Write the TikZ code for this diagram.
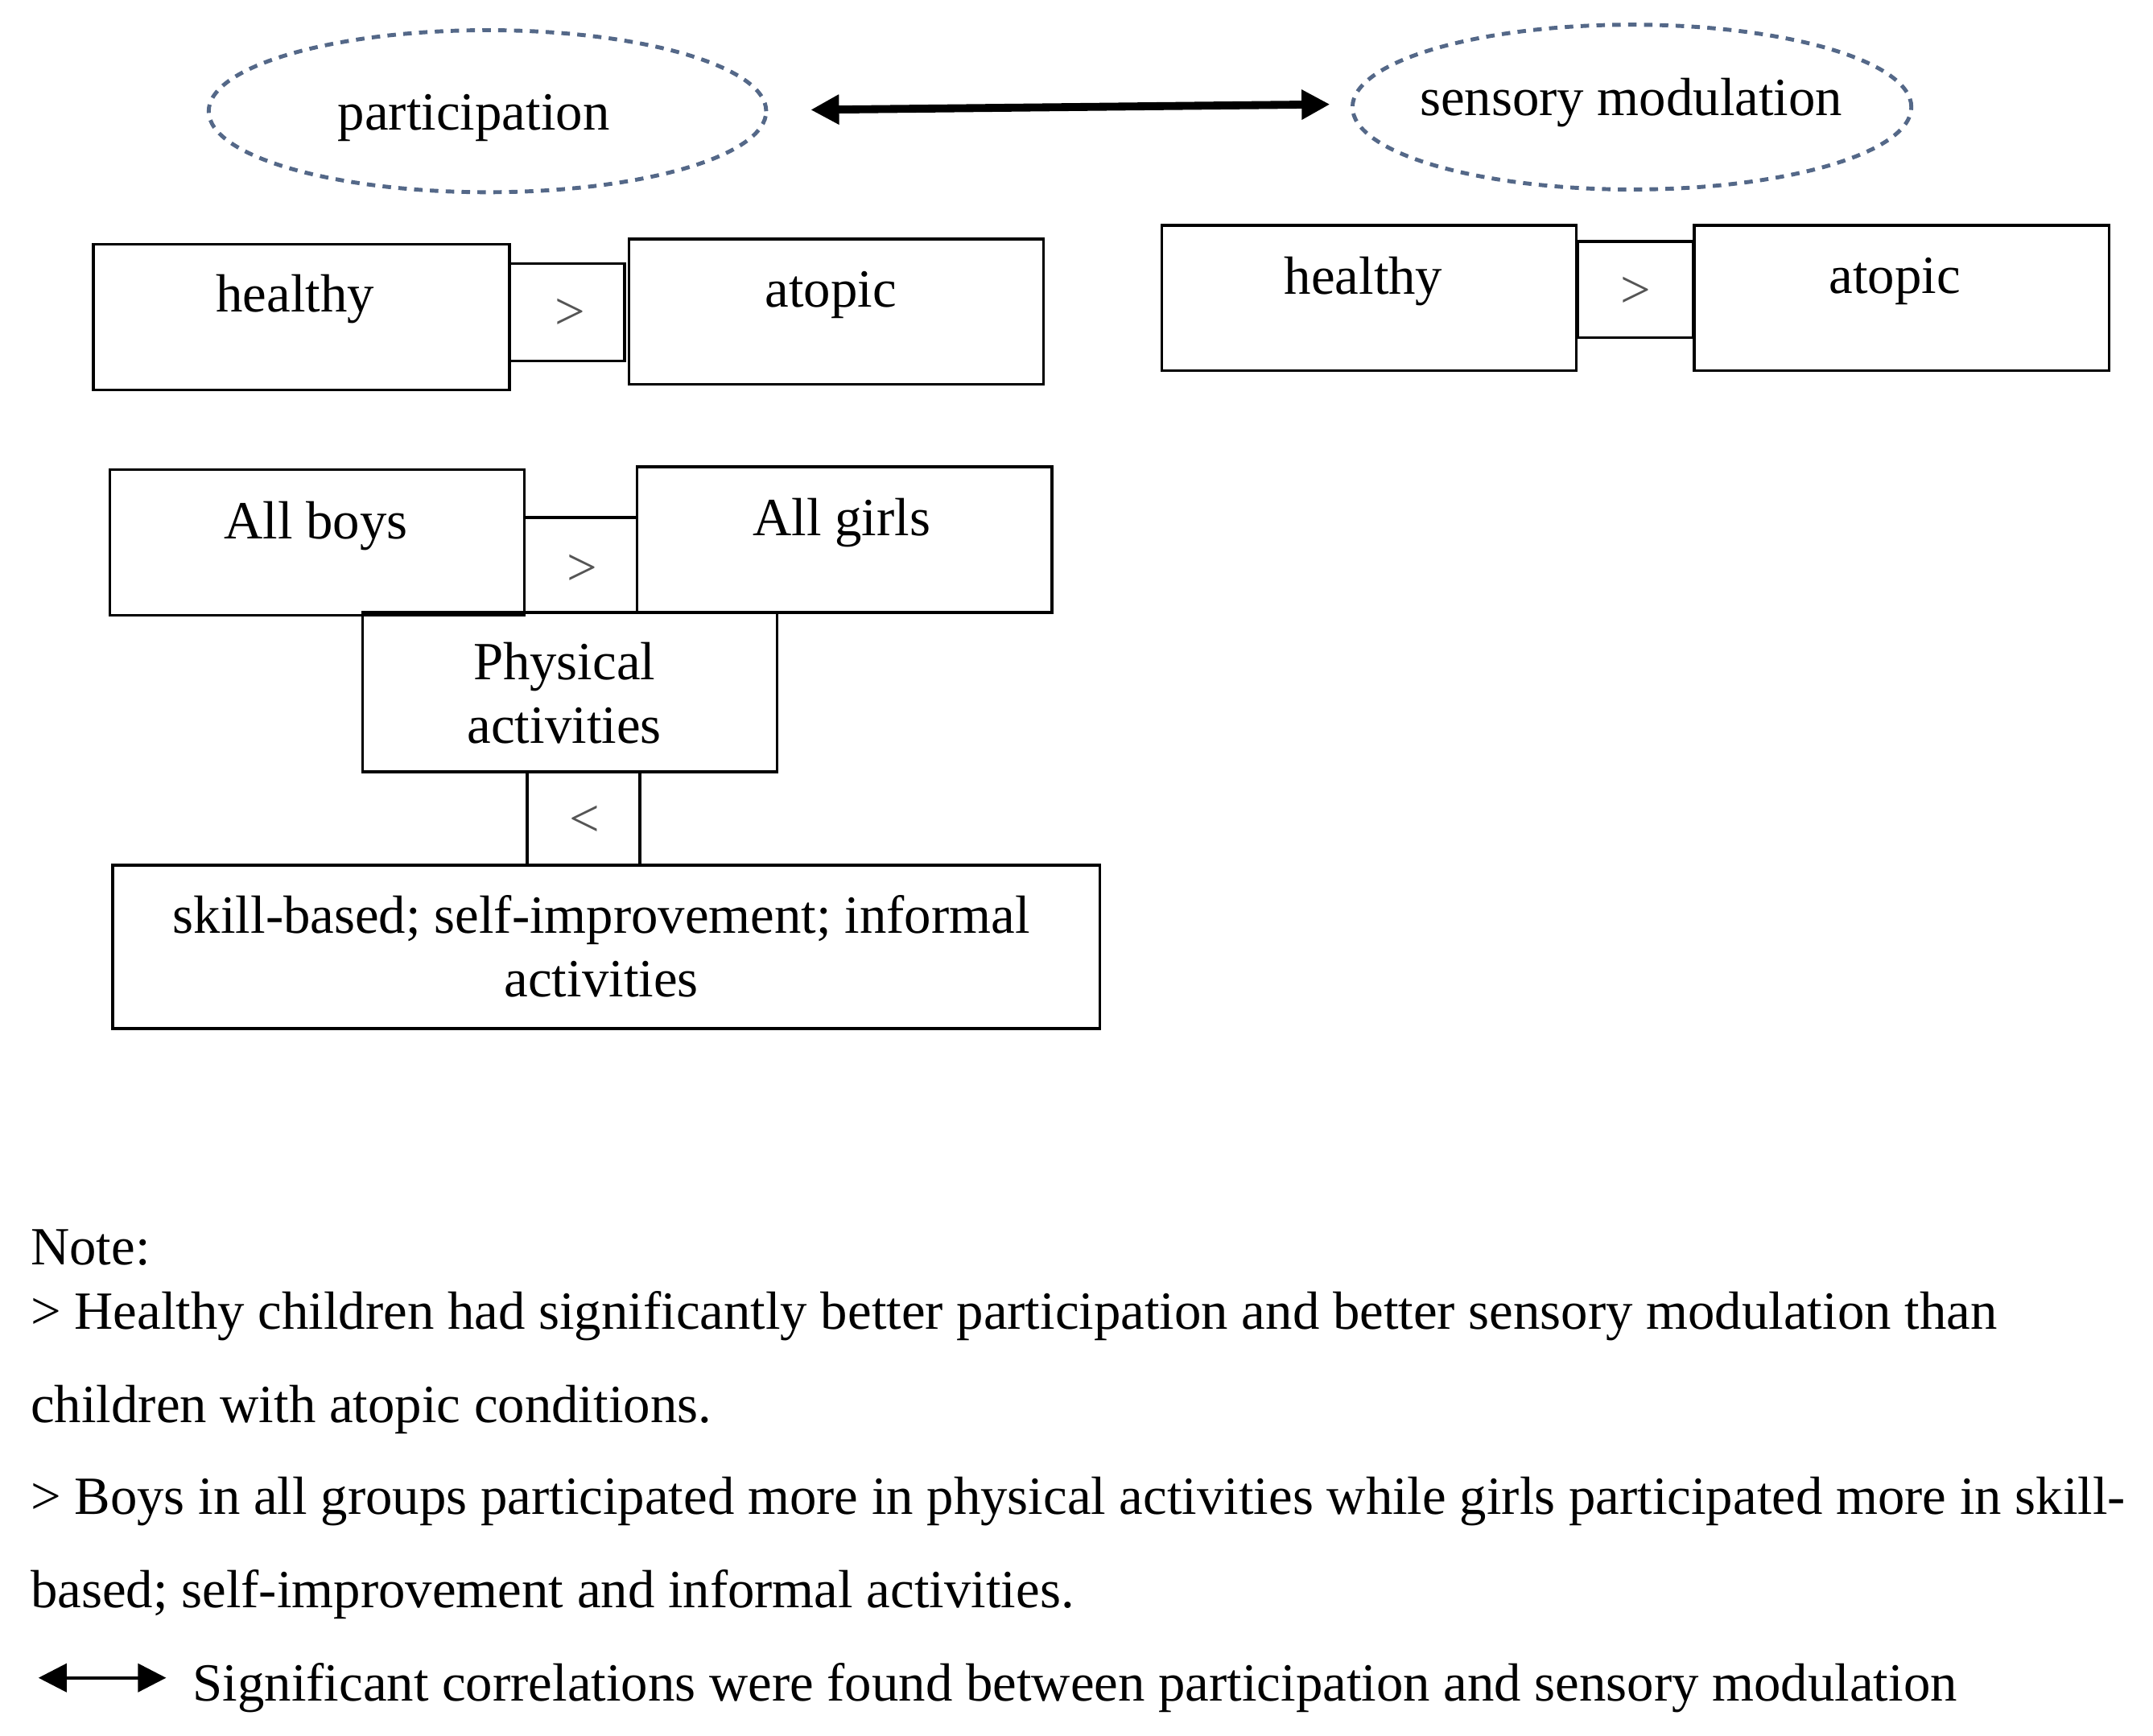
\documentclass[tikz,border=0pt]{standalone}
\usepackage{fontspec}
\setmainfont{Liberation Serif}
\usetikzlibrary{arrows.meta,shapes.geometric}
\newdimen\pxu \pxu=0.01706cm
\definecolor{ellcol}{RGB}{84,104,136}
\definecolor{relgray}{RGB}{85,85,85}
\tikzset{tiptri/.tip={Triangle[length=10pt,width=10pt]}}
\begin{document}
\begin{tikzpicture}[x=0.01706cm,y=-0.01706cm,
  every node/.style={font=\fontsize{19}{23}\selectfont},
  box/.style={draw=black,line width=1pt,rectangle,inner sep=0pt},
  ell/.style={draw=ellcol,ellipse,line width=1.4pt,dash pattern=on 3pt off 2.6pt,inner sep=0pt},
  txt/.style={inner sep=0pt,align=center},
  rel/.style={inner sep=0pt,text=relgray},
  note/.style={inner sep=0pt,anchor=base west}
]
\useasboundingbox (0,0) rectangle (1568,1263.8);
% ellipses
\node[ell,minimum width=406\pxu,minimum height=118\pxu] (e1) at (355,81) {};
\node[txt] (e1t) at (345,86) {participation};
\node[ell,minimum width=407\pxu,minimum height=120\pxu] (e2) at (1188.5,78) {};
\node[txt] (e2t) at (1188,75) {sensory modulation};
\coordinate (a1) at ([xshift=31\pxu,yshift=1\pxu]e1.east);
\coordinate (a2) at ([xshift=-15\pxu,yshift=2\pxu]e2.west);
\draw[line width=2.8pt,tiptri-tiptri] (a1) -- (a2);
% left healthy/atopic
\node[box,minimum width=303\pxu,minimum height=106\pxu] (lh) at (219.5,231) {};
\node[txt] (lht) at (215,218) {healthy};
\node[box,minimum width=84\pxu,minimum height=71\pxu] (lg) at (413,227.5) {};
\node[rel] (lgt) at (415,229) {>};
\node[box,minimum width=302\pxu,minimum height=106\pxu] (la) at (609,227) {};
\node[txt] (lat) at (605,215) {atopic};
% right healthy/atopic
\node[box,minimum width=302\pxu,minimum height=106\pxu] (rh) at (997,217) {};
\node[txt] (rht) at (993,205) {healthy};
\node[box,minimum width=84\pxu,minimum height=70\pxu] (rg) at (1191,211) {};
\node[rel] (rgt) at (1191,213) {>};
\node[box,minimum width=302\pxu,minimum height=106\pxu] (ra) at (1385,217) {};
\node[txt] (rat) at (1380,205) {atopic};
% boys/girls
\node[box,minimum width=302\pxu,minimum height=106\pxu] (boys) at (231,395) {};
\node[txt] (boyst) at (230,383) {All boys};
\node[box,minimum width=82\pxu,minimum height=69\pxu] (bg) at (423,411.5) {};
\node[rel] (bgt) at (424,415) {>};
\node[box,minimum width=302\pxu,minimum height=106\pxu] (girls) at (615,393) {};
\node[txt] (girlst) at (613,381) {All girls};
\node[box,minimum width=302\pxu,minimum height=116\pxu] (phys) at (415,504) {};
\node[txt] (physt) at (411,505) {Physical\\[-0.5pt]activities};
\node[box,minimum width=82\pxu,minimum height=68\pxu] (lt) at (425,596) {};
\node[rel] (ltt) at (426,598) {<};
\node[box,minimum width=719\pxu,minimum height=119\pxu] (skill) at (441.5,689.5) {};
\node[txt] (skillt) at (438,689) {skill-based; self-improvement; informal\\[-0.5pt]activities};
% notes
\node[note] (n0) at (22,921) {Note:};
\node[note] (n1) at (22,968) {> Healthy children had significantly better participation and better sensory modulation than};
\node[note] (n2) at (22,1036) {children with atopic conditions.};
\node[note] (n3) at (22,1103) {> Boys in all groups participated more in physical activities while girls participated more in skill-};
\node[note] (n4) at (22,1171) {based; self-improvement and informal activities.};
\coordinate (l1) at (28,1222);
\coordinate (l2) at (121,1222);
\draw[line width=1.1pt,tiptri-tiptri] (l1) -- (l2);
\node[note] (n5) at (140,1239) {Significant correlations were found between participation and sensory modulation};
\end{tikzpicture}
\end{document}
